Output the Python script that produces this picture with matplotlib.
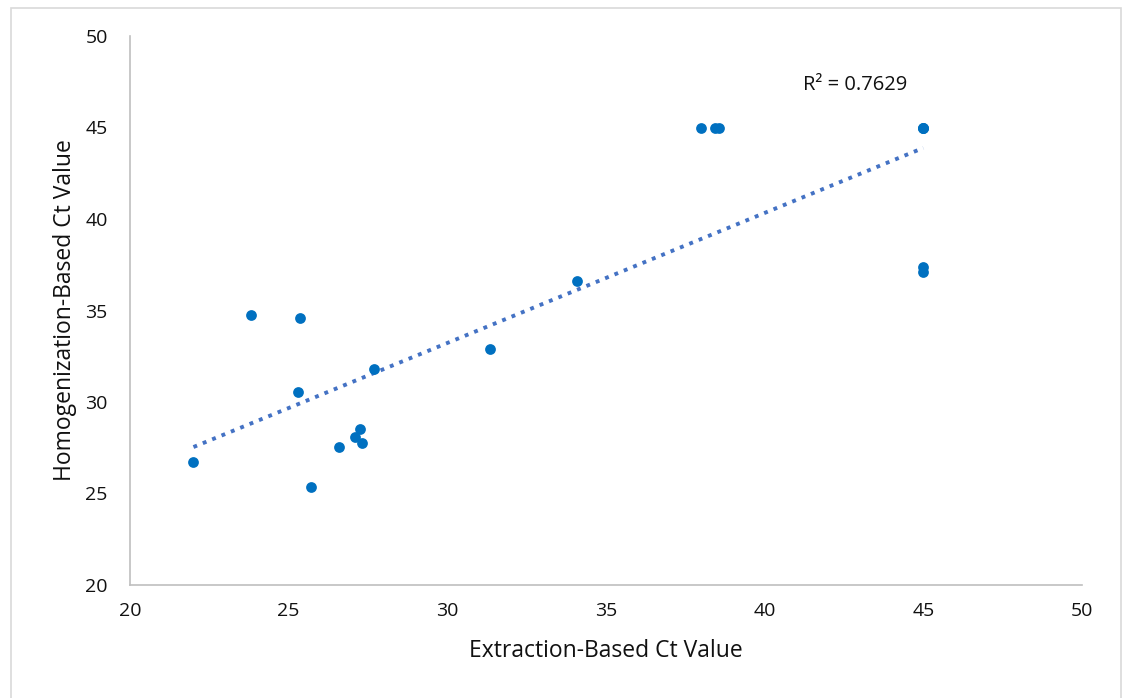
"""
Homogenization vs extraction Ct values, with linear trendline
"""
import numpy as np
import matplotlib
matplotlib.use("Agg")
import matplotlib.pyplot as plt
from matplotlib.patches import Rectangle

extraction_ct = [22.0, 23.8, 25.35, 25.3, 25.7, 26.6, 27.1, 27.25, 27.3, 27.7,
                 31.35, 34.1, 38.0, 38.45, 38.55, 45.0, 45.0, 45.0, 45.0, 45.0]
homogenization_ct = [26.7, 34.75, 34.6, 30.55, 25.35, 27.55, 28.1, 28.5, 27.75, 31.8,
                     32.9, 36.6, 45.0, 45.0, 45.0, 45.0, 45.0, 45.0, 37.4, 37.1]
r2_label = "R² = 0.7629"

plt.rcParams["font.family"] = ["Open Sans", "DejaVu Sans"]

fig = plt.figure(figsize=(11.23, 6.98), dpi=100)
ax = fig.add_axes([130 / 1123, 1 - 585 / 698, 952 / 1123, 549 / 698])

# outer chart border
fig.patches.append(Rectangle((11 / 1123, -0.01), 1110 / 1123, 1 - 8 / 698 + 0.01,
                             transform=fig.transFigure, fill=False,
                             edgecolor="#D9D9D9", linewidth=1.2))

ax.scatter(extraction_ct, homogenization_ct, s=60, color="#0070C0", zorder=3,
           linewidths=0)

x = np.array(extraction_ct)
y = np.array(homogenization_ct)
slope, intercept = np.polyfit(x, y, 1)
xs = np.array([x.min(), x.max()])
ax.plot(xs, slope * xs + intercept, linestyle=(0, (1, 1.6)), color="#4472C4",
        linewidth=2.8, zorder=2)

ax.text(41.2, 47.3, r2_label, fontsize=14.5, color="#111111", va="center")

ax.set_xlim(20, 50)
ax.set_ylim(20, 50)
ax.set_xticks(range(20, 51, 5))
ax.set_yticks(range(20, 51, 5))
ax.tick_params(length=0, labelsize=14, colors="#111111")
ax.tick_params(axis="y", pad=16)
ax.tick_params(axis="x", pad=12)
ax.set_xlabel("Extraction-Based Ct Value", fontsize=16.5, color="#111111", labelpad=14)
ax.set_ylabel("Homogenization-Based Ct Value", fontsize=16.5, color="#111111", labelpad=6)

for side in ["top", "right"]:
    ax.spines[side].set_visible(False)
for side in ["left", "bottom"]:
    ax.spines[side].set_color("#BFBFBF")
    ax.spines[side].set_linewidth(1.2)

plt.savefig("out.png", dpi=100)
